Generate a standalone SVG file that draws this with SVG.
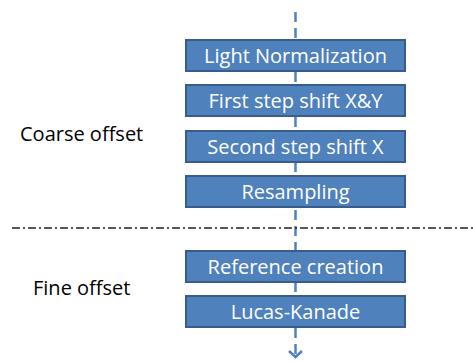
<svg xmlns="http://www.w3.org/2000/svg" width="473" height="362" viewBox="0 0 473 362">
<defs>
<style>
.box{fill:#4F81BD;stroke:#385D8A;stroke-width:2}
.bt{font-family:"Open Sans","Liberation Sans",sans-serif;font-size:20px;fill:#fff;text-anchor:middle}
.lbl{font-family:"Open Sans","Liberation Sans",sans-serif;font-size:20px;fill:#000}
.flow{stroke:#4F81BD;stroke-width:2.5;fill:none;stroke-dasharray:10 6}
</style>
</defs>
<rect width="473" height="362" fill="#fff"/>
<g id="connectors">
<line class="flow" x1="295.5" y1="12" x2="295.5" y2="40"/>
<line class="flow" x1="295.5" y1="72" x2="295.5" y2="85"/>
<line class="flow" x1="295.5" y1="117" x2="295.5" y2="130"/>
<line class="flow" x1="295.5" y1="162" x2="295.5" y2="176"/>
<line class="flow" x1="295.5" y1="210" x2="295.5" y2="251" stroke-dasharray="10 7"/>
<line class="flow" x1="295.5" y1="282" x2="295.5" y2="296"/>
<line class="flow" x1="295.5" y1="328" x2="295.5" y2="358" stroke-dasharray="10 7"/>
<polyline points="289,351 295.5,357 302,351" fill="none" stroke="#4F81BD" stroke-width="2.5"/>
</g>
<line id="divider" x1="12" y1="228" x2="473" y2="228" stroke="#222" stroke-width="1.3" stroke-dasharray="8 3 2 3"/>
<g id="n1"><rect class="box" x="186" y="40" width="219" height="31"/><text class="bt" x="295.5" y="63">Light Normalization</text></g>
<g id="n2"><rect class="box" x="186" y="85" width="219" height="31"/><text class="bt" x="295.5" y="108">First step shift X&amp;Y</text></g>
<g id="n3"><rect class="box" x="186" y="131" width="219" height="31"/><text class="bt" x="295.5" y="154">Second step shift X</text></g>
<g id="n4"><rect class="box" x="186" y="176" width="219" height="31"/><text class="bt" x="295.5" y="199">Resampling</text></g>
<g id="n5"><rect class="box" x="186" y="251" width="219" height="31"/><text class="bt" x="295.5" y="274">Reference creation</text></g>
<g id="n6"><rect class="box" x="186" y="296" width="219" height="31"/><text class="bt" x="295.5" y="319">Lucas-Kanade</text></g>
<text class="lbl" x="20" y="141">Coarse offset</text>
<text class="lbl" x="33" y="295">Fine offset</text>
</svg>
